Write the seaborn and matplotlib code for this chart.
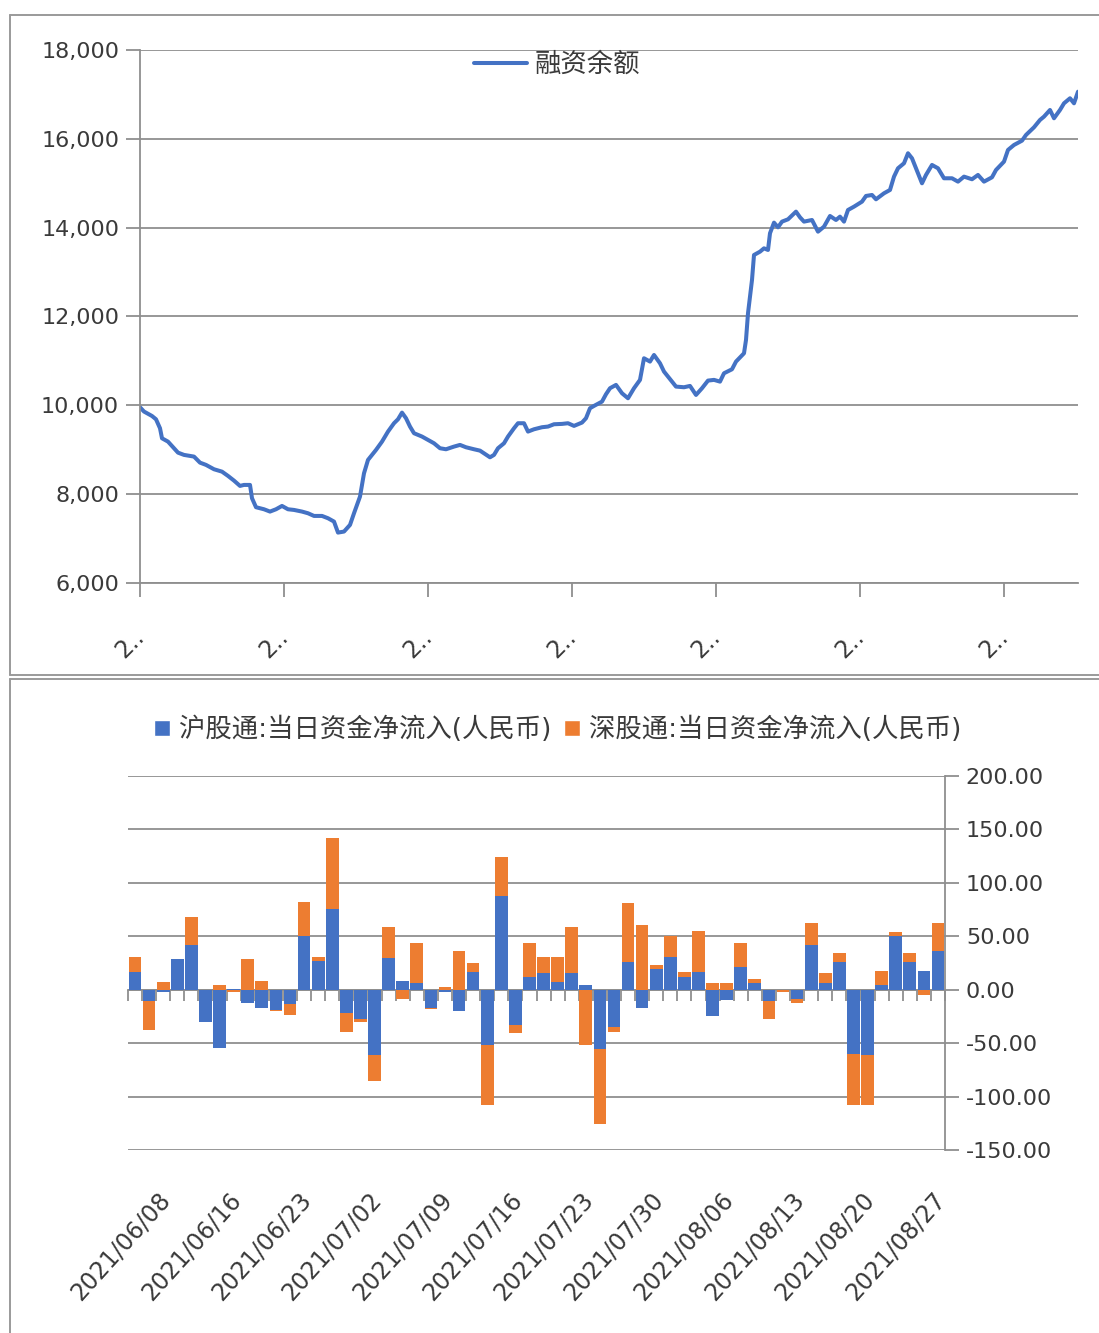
import numpy as np
import pandas as pd
import matplotlib
matplotlib.use("Agg")
import matplotlib.pyplot as plt
import seaborn as sns
from matplotlib import font_manager
from matplotlib.patches import Patch
from matplotlib.lines import Line2D
from matplotlib.ticker import FuncFormatter, MultipleLocator
from matplotlib.transforms import ScaledTranslation

# ---------------- data: top panel (融资余额) ----------------
margin_day = [0, 2, 6, 8, 10, 11, 14, 17, 19, 22, 27, 30, 33, 37, 41, 44, 47, 50, 52, 55,
              56, 58, 62, 65, 68, 71, 74, 77, 81, 84, 87, 91, 94, 97, 99, 102, 105, 107, 110, 112,
              114, 118, 121, 124, 127, 129, 131, 133, 135, 137, 141, 144, 147, 150, 153, 157, 160, 163, 167, 170,
              172, 175, 177, 179, 182, 184, 187, 189, 192, 194, 197, 201, 204, 207, 211, 214, 217, 221, 223, 225,
              227, 231, 233, 235, 238, 241, 244, 247, 250, 252, 255, 257, 260, 262, 266, 268, 272, 275, 278, 281,
              284, 287, 290, 292, 296, 298, 302, 303, 304, 306, 307, 310, 312, 314, 315, 317, 319, 321, 324, 328,
              330, 332, 336, 339, 342, 345, 348, 350, 352, 354, 357, 361, 363, 366, 368, 372, 375, 377, 379, 382,
              384, 386, 388, 391, 393, 396, 399, 402, 406, 409, 412, 416, 419, 422, 426, 428, 432, 434, 437, 441,
              443, 447, 450, 452, 455, 457, 460, 462, 465, 467, 469]
margin_balance = [9957, 9860, 9760, 9686, 9484, 9258, 9183, 9034, 8935, 8884, 8846, 8710, 8659, 8561, 8507, 8411, 8305, 8186, 8208, 8208,
                  7909, 7706, 7660, 7608, 7660, 7735, 7660, 7645, 7608, 7570, 7510, 7510, 7458, 7383, 7135, 7158, 7308, 7570, 7946, 8470,
                  8771, 8996, 9183, 9409, 9597, 9686, 9836, 9710, 9522, 9372, 9297, 9221, 9146, 9034, 9011, 9071, 9109, 9056, 9011, 8980,
                  8921, 8830, 8884, 9034, 9146, 9297, 9484, 9597, 9597, 9409, 9461, 9507, 9522, 9574, 9582, 9597, 9537, 9612, 9710, 9935,
                  9987, 10084, 10250, 10385, 10460, 10272, 10159, 10385, 10573, 11060, 10985, 11134, 10947, 10760, 10534, 10422, 10407, 10437, 10234, 10385,
                  10557, 10573, 10534, 10722, 10812, 10985, 11172, 11472, 12072, 12823, 13385, 13460, 13535, 13498, 13874, 14113, 14008, 14136, 14188, 14361,
                  14233, 14136, 14173, 13910, 14023, 14263, 14173, 14248, 14136, 14398, 14473, 14586, 14714, 14736, 14639, 14774, 14849, 15149, 15337, 15450,
                  15675, 15562, 15337, 14999, 15187, 15412, 15337, 15112, 15112, 15036, 15149, 15090, 15187, 15036, 15134, 15299, 15487, 15750, 15862, 15959,
                  16087, 16260, 16425, 16500, 16650, 16463, 16650, 16800, 16913, 16800, 17062]
top_tick_days = [0, 72, 144, 216, 288, 360, 432]
top_tick_labels = ["2.."] * 7

# ---------------- data: bottom panel (北向资金) ----------------
dates = ["2021/06/04", "2021/06/07", "2021/06/08", "2021/06/09", "2021/06/10", "2021/06/11", "2021/06/15",
         "2021/06/16", "2021/06/17", "2021/06/18", "2021/06/21", "2021/06/22", "2021/06/23", "2021/06/24",
         "2021/06/25", "2021/06/28", "2021/06/30", "2021/07/02", "2021/07/05", "2021/07/06", "2021/07/07",
         "2021/07/08", "2021/07/09", "2021/07/12", "2021/07/13", "2021/07/14", "2021/07/15", "2021/07/16",
         "2021/07/19", "2021/07/20", "2021/07/21", "2021/07/22", "2021/07/23", "2021/07/26", "2021/07/27",
         "2021/07/28", "2021/07/29", "2021/07/30", "2021/08/02", "2021/08/03", "2021/08/04", "2021/08/05",
         "2021/08/06", "2021/08/09", "2021/08/10", "2021/08/11", "2021/08/12", "2021/08/13", "2021/08/16",
         "2021/08/17", "2021/08/18", "2021/08/19", "2021/08/20", "2021/08/23", "2021/08/24", "2021/08/25",
         "2021/08/26", "2021/08/27"]
sh_flow = [17, -11, -2, 29, 42, -30, -55, 1, -12, -17.5, -19, -13.4, 50, 27, 76, -22, -27, -61, 30, 8,
           6, -17, -2, -20, 17, -52, 87.5, -33, 12, 16, 7, 16, 4.7, -55.6, -35, 25.6, -17.5, 19.4, 31, 12,
           17, -25, -10, 21, 6, -11, 0, -9, 42, 6, 25.6, -59.7, -61, 4.4, 50, 25.6, 17.5, 36]
sz_flow = [14, -27, 7, 0, 26.5, 0, 4.4, -2, 29, 8, -1, -10.3, 32, 4, 66, -18, -3.6, -24, 29, -9,
           38, -1, 3, 36.6, 8, -56, 37, -7.5, 32, 15, 24, 43, -52, -70, -5, 56, 60.6, 4, 19.7, 5,
           38, 6, 6, 23, 4, -16, -2, -3.5, 20.6, 9.6, 8.8, -48, -47, 13.4, 3.75, 8.8, -4.7, 26.5]
sh_name = "沪股通:当日资金净流入(人民币)"
sz_name = "深股通:当日资金净流入(人民币)"
bottom_label_idx = list(range(2, 58, 5))

# ---------------- style ----------------
BLUE = "#4472C4"
ORANGE = "#ED7D31"
GRID = "#8f8f8f"
TXT = "#3a3a3a"

sns.set_theme(style="white")
names = {f.name for f in font_manager.fontManager.ttflist}
NARROW = "Liberation Sans Narrow" if "Liberation Sans Narrow" in names else None
LATIN = [NARROW] if NARROW else ["DejaVu Sans"]
plt.rcParams["font.family"] = LATIN + ["Noto Sans CJK SC", "DejaVu Sans"]
NUM_FS = 22 if NARROW else 16
DATE_FS = 22 if NARROW else 17
CJK_FS = 19

W, H = 1099, 1333
fig = plt.figure(figsize=(W / 100, H / 100), dpi=100)
fig.patch.set_facecolor("white")


def fx(px):
    return px / W


def fy(py):
    return 1 - py / H


# panel frames
for (x0, y0, x1, y1) in [(10, 15, 1099, 15), (10, 15, 10, 675), (10, 675, 1099, 675),
                         (10, 679, 1099, 679), (10, 679, 10, 1333)]:
    fig.add_artist(Line2D([fx(x0), fx(x1)], [fy(y0), fy(y1)], color="#9a9a9a", lw=1.4,
                          transform=fig.transFigure))

# ---------------- top panel ----------------
ax1 = fig.add_axes([fx(140), fy(583), fx(1078) - fx(140), fy(50) - fy(583)])
df1 = pd.DataFrame({"day": margin_day, "融资余额": margin_balance})
sns.lineplot(data=df1, x="day", y="融资余额", ax=ax1, color=BLUE, lw=2.9, legend=False)
ax1.set_xlim(0, 469)
ax1.set_ylim(6000, 18000)
ax1.yaxis.set_major_locator(MultipleLocator(2000))
ax1.yaxis.set_major_formatter(FuncFormatter(lambda v, p: f"{v:,.0f}"))
ax1.set_xticks(top_tick_days)
ax1.set_xticklabels(top_tick_labels, rotation=45, ha="right", va="top", rotation_mode="anchor")
ax1.set_xlabel("")
ax1.set_ylabel("")
ax1.grid(axis="y", color=GRID, lw=1.3)
ax1.grid(axis="x", visible=False)
for s in ["top", "right"]:
    ax1.spines[s].set_visible(False)
for s in ["left", "bottom"]:
    ax1.spines[s].set_color(GRID)
    ax1.spines[s].set_linewidth(1.3)
ax1.tick_params(axis="y", length=10, width=1.3, color=GRID, pad=5, labelsize=NUM_FS, labelcolor=TXT, left=True)
ax1.tick_params(axis="x", length=10, width=1.3, color=GRID, pad=20, labelsize=NUM_FS + 1, labelcolor=TXT, bottom=True)
for lab in ax1.get_xticklabels():
    lab.set_transform(lab.get_transform() + ScaledTranslation(-8 / 100, 0, fig.dpi_scale_trans))
ax1.legend(handles=[Line2D([], [], color=BLUE, lw=2.9, label="融资余额")], loc="center",
           bbox_to_anchor=(0.445, 0.972), frameon=False, fontsize=CJK_FS, handlelength=2.0,
           handletextpad=0.3, labelcolor=TXT)

# ---------------- bottom panel ----------------
ax2 = fig.add_axes([fx(128), fy(1150), fx(945) - fx(128), fy(776) - fy(1150)])
sh = np.array(sh_flow, dtype=float)
sz = np.array(sz_flow, dtype=float)
df2 = pd.DataFrame({"date": dates, "sh": sh, "sz": sz})
sz_base = np.where(sz >= 0, np.maximum(sh, 0), np.minimum(sh, 0))
sns.barplot(data=df2, x="date", y="sh", ax=ax2, color=BLUE, saturation=1, width=0.9,
            errorbar=None, zorder=3, linewidth=0, edgecolor="none")
sns.barplot(data=df2, x="date", y="sz", ax=ax2, color=ORANGE, saturation=1, width=0.9,
            errorbar=None, bottom=sz_base, zorder=3, linewidth=0, edgecolor="none")
ax2.set_xlim(-0.5, len(dates) - 0.5)
ax2.set_ylim(-150, 200)
ax2.yaxis.tick_right()
ax2.yaxis.set_major_locator(MultipleLocator(50))
ax2.yaxis.set_major_formatter(FuncFormatter(lambda v, p: f"{v:.2f}"))
ax2.set_xlabel("")
ax2.set_ylabel("")
ax2.grid(axis="y", color=GRID, lw=1.3, zorder=0)
ax2.grid(axis="x", visible=False)
ax2.set_axisbelow(True)
for s in ["top", "left", "bottom"]:
    ax2.spines[s].set_visible(False)
ax2.spines["right"].set_color(GRID)
ax2.spines["right"].set_linewidth(1.3)
ax2.tick_params(axis="y", right=True, left=False, length=10, width=1.3, color=GRID, pad=5,
                labelsize=NUM_FS, labelcolor=TXT)
ax2.set_xticks(bottom_label_idx)
ax2.set_xticklabels([dates[i] for i in bottom_label_idx], rotation=48, ha="right", va="top",
                    rotation_mode="anchor")
ax2.tick_params(axis="x", length=0, pad=27, labelsize=DATE_FS, labelcolor=TXT)
for lab in ax2.get_xticklabels():
    lab.set_transform(lab.get_transform() + ScaledTranslation(-6 / 100, 0, fig.dpi_scale_trans))

# category ticks on the zero line (drawn behind the bars)
sec = ax2.secondary_xaxis(150 / 350)
sec.set_zorder(1)
sec.set_xticks(np.arange(-0.5, len(dates), 1.0))
sec.set_xticklabels([])
sec.tick_params(axis="x", direction="out", length=8, width=1.3, color=GRID)
sec.spines["bottom"].set_color(GRID)
sec.spines["bottom"].set_linewidth(1.3)
sec.spines["top"].set_visible(False)

ax2.legend(handles=[Patch(facecolor=BLUE, label=sh_name), Patch(facecolor=ORANGE, label=sz_name)],
           loc="center", bbox_to_anchor=(0.526, 1.123), ncol=2, frameon=False, fontsize=CJK_FS,
           handlelength=0.6, handleheight=0.6, handletextpad=0.35, columnspacing=0.45,
           labelcolor=TXT)

fig.savefig("out.png", dpi=100, facecolor="white")
